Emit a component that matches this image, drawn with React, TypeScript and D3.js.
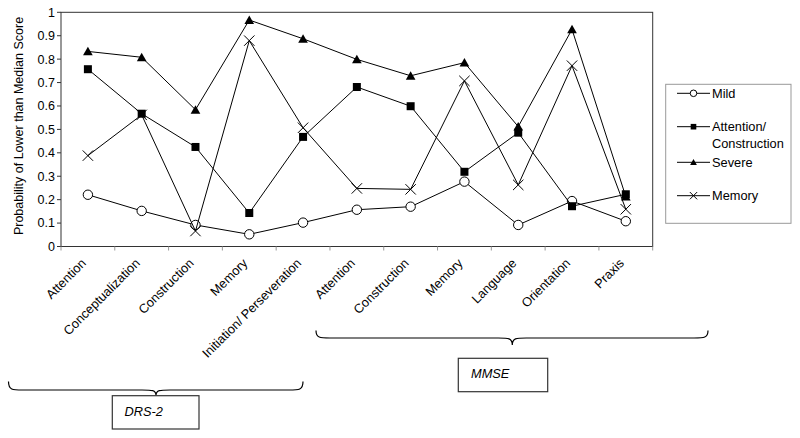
import React from "react";
import * as d3 from "d3";

const categories = [
  "Attention", "Conceptualization", "Construction", "Memory", "Initiation/ Perseveration",
  "Attention", "Construction", "Memory", "Language", "Orientation", "Praxis",
];
const mild = [0.221, 0.152, 0.092, 0.052, 0.102, 0.157, 0.170, 0.277, 0.092, 0.194, 0.108];
const attnConstr = [0.757, 0.567, 0.425, 0.143, 0.468, 0.681, 0.599, 0.319, 0.486, 0.172, 0.223];
const severe = [0.833, 0.808, 0.584, 0.967, 0.887, 0.799, 0.729, 0.785, 0.512, 0.927, 0.213];
const memory = [0.388, 0.562, 0.066, 0.879, 0.507, 0.248, 0.244, 0.707, 0.263, 0.772, 0.159];
const yTicks = [0, 0.1, 0.2, 0.3, 0.4, 0.5, 0.6, 0.7, 0.8, 0.9, 1];
const seriesNames = ["Mild", "Attention/\nConstruction", "Severe", "Memory"];
const seriesKinds = ["circle", "square", "triangle", "cross"];
const seriesValues = [mild, attnConstr, severe, memory];

const FONT = "Liberation Sans, Arial, sans-serif";

const L = 61, R = 652.7, T = 12.3, B = 246.5;

function Marker({ kind, x, y, s = 1 }: { kind: string; x: number; y: number; s?: number }) {
  if (kind === "circle") return <circle cx={x} cy={y} r={4.7 * s} fill="#fff" stroke="#000" strokeWidth={1} />;
  if (kind === "square") return <rect x={x - 4 * s} y={y - 4 * s} width={8 * s} height={8 * s} fill="#000" />;
  if (kind === "triangle") {
    const h = 4.6 * s;
    return <path d={`M${x},${y - h}L${x + h * 1.05},${y + h * 0.85}L${x - h * 1.05},${y + h * 0.85}Z`} fill="#000" />;
  }
  const c = 5.2 * s;
  return <path d={`M${x - c},${y - c}L${x + c},${y + c}M${x - c},${y + c}L${x + c},${y - c}`} stroke="#000" strokeWidth={1} fill="none" />;
}

function brace(x0: number, x1: number, yTop: number, yMid: number, tx: number, tip: number) {
  const r = 14;
  return `M${x0},${yTop} C${x0},${yMid} ${x0 + 4},${yMid} ${x0 + r},${yMid} L${tx - r},${yMid} C${tx - 4},${yMid} ${tx},${yMid} ${tx},${tip} C${tx},${yMid} ${tx + 4},${yMid} ${tx + r},${yMid} L${x1 - r},${yMid} C${x1 - 4},${yMid} ${x1},${yMid} ${x1},${yTop}`;
}

export default function App() {
  const x = d3.scaleBand<number>().domain(d3.range(categories.length)).range([L, R]).padding(0);
  const y = d3.scaleLinear().domain([0, 1]).range([B, T]);
  const cx = (i: number) => (x(i) as number) + x.bandwidth() / 2;
  const line = d3.line<number>().x((_, i) => cx(i)).y((v) => y(v));
  const bounds = d3.range(categories.length + 1).map((i) => L + i * x.bandwidth());

  return (
    <svg width={800} height={438} style={{ position: "absolute", left: 0, top: 0, background: "#fff" }} fontFamily={FONT}>
      <rect x={0} y={0} width={800} height={438} fill="#fff" />
      {/* plot frame */}
      <rect x={L} y={T} width={R - L} height={B - T} fill="none" stroke="#333" strokeWidth={1} />
      {/* y ticks */}
      {yTicks.map((t) => (
        <g key={t}>
          <line x1={L - 4} x2={L} y1={y(t)} y2={y(t)} stroke="#333" />
          <text x={55} y={y(t)} dy="0.35em" textAnchor="end" fontSize={12.5} fill="#000">{t}</text>
        </g>
      ))}
      <text transform={`translate(23,126) rotate(-90)`} textAnchor="middle" fontSize={12.5} fill="#000">
        Probability of Lower than Median Score
      </text>
      {/* x ticks */}
      {bounds.map((b, i) => (
        <line key={i} x1={b} x2={b} y1={B} y2={B + 4} stroke="#999" />
      ))}
      {categories.map((c, i) => (
        <text key={i} transform={`translate(${cx(i) - 1},${264}) rotate(-45)`} textAnchor="end" fontSize={12.8} fill="#000">
          {c}
        </text>
      ))}
      {/* series */}
      {seriesValues.map((vals, si) => (
        <g key={si}>
          <path d={line(vals) as string} fill="none" stroke="#000" strokeWidth={1} />
          {vals.map((v, i) => (
            <Marker key={i} kind={seriesKinds[si]} x={cx(i)} y={y(v)} />
          ))}
        </g>
      ))}
      {/* legend */}
      <rect x={665.7} y={84.3} width={125.3} height={139} fill="#fff" stroke="#999" />
      {seriesNames.map((n, si) => {
        const ly = [93.3, 126.7, 162.3, 195.7][si];
        const parts = n.split("\n");
        return (
          <g key={si}>
            <line x1={677} x2={710} y1={ly} y2={ly} stroke="#000" />
            <Marker kind={seriesKinds[si]} x={693.5} y={ly} s={0.7} />
            {parts.map((p, pi) => (
              <text key={pi} x={712} y={ly + pi * 16.6} dy="0.35em" fontSize={12.8} fill="#000">{p}</text>
            ))}
          </g>
        );
      })}
      {/* braces */}
      <path d={brace(8.5, 303, 381.5, 390, 156, 395.5)} fill="none" stroke="#000" strokeWidth={1.2} />
      <rect x={112.3} y={395.7} width={86.7} height={33.3} fill="#fff" stroke="#333" strokeWidth={1.2} />
      <text x={124.5} y={415.5} fontSize={12.8} fontStyle="italic" fill="#000">DRS-2</text>
      <path d={brace(316, 708, 330.5, 338, 512.3, 345)} fill="none" stroke="#000" strokeWidth={1.2} />
      <rect x={458.3} y={358.3} width={89.4} height={33.4} fill="#fff" stroke="#333" strokeWidth={1.2} />
      <text x={471} y={377.5} fontSize={12.8} fontStyle="italic" fill="#000">MMSE</text>
    </svg>
  );
}
